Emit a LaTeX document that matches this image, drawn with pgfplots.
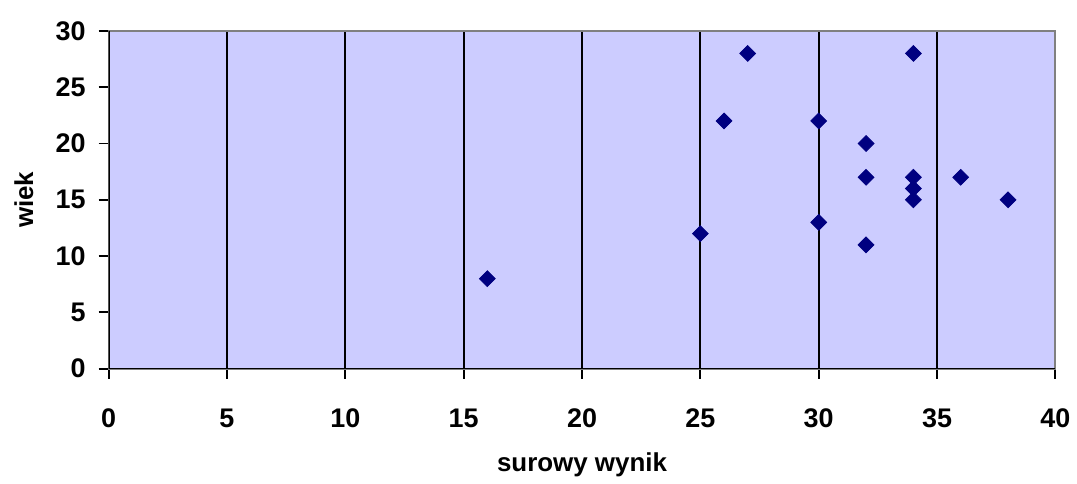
\documentclass[border=0pt]{standalone}
\usepackage{fontspec}
\setmainfont{Liberation Sans}
\usepackage{pgfplots}
\pgfplotsset{compat=1.18}
\definecolor{bgc}{HTML}{CCCCFF}
\definecolor{mk}{HTML}{000080}
\begin{document}
\begin{tikzpicture}
\begin{axis}[
  name=ax,
  scale only axis,
  width=475pt, height=169.5pt,
  xmin=0, xmax=40, ymin=0, ymax=30,
  xtick={0,5,...,40}, ytick={0,5,...,30},
  tick align=outside, xtick pos=bottom, ytick pos=left,
  major tick length=5pt,
  tick style={black, line width=1pt},
  xmajorgrids, ymajorgrids=false,
  grid style={black, line width=1pt},
  axis line style={draw=gray, line width=1pt},
  axis background/.style={fill=bgc},
  /pgf/number format/assume math mode=true,
  ticklabel style={font=\bfseries\fontsize{13.5}{15}\selectfont},
  xticklabel style={yshift=-11.5pt},
  yticklabel style={xshift=-3pt},
  xlabel={surowy wynik}, ylabel={wiek},
  every axis x label/.style={at={(axis description cs:0.5,-0.283)}, anchor=center, font=\bfseries\fontsize{13}{15}\selectfont},
  every axis y label/.style={at={(axis description cs:-0.0895,0.5)}, anchor=center, rotate=90, font=\bfseries\fontsize{13}{15}\selectfont},
]
\draw[black, line width=1pt] (rel axis cs:0,1) -- (rel axis cs:0,0) -- (rel axis cs:1,0);
\addplot[only marks, mark=square*, mark size=2.8pt, mark options={rotate=45, fill=mk, draw=mk}] coordinates {
(16,8) (25,12) (26,22) (27,28) (30,22) (30,13) (32,20) (32,17) (32,11)
(34,28) (34,17) (34,16) (34,15) (36,17) (38,15)
};
\end{axis}
\path[use as bounding box] ([shift={(-54.5pt,-54.5pt)}]ax.south west) rectangle ([shift={(9pt,15.5pt)}]ax.north east);
\end{tikzpicture}
\end{document}
